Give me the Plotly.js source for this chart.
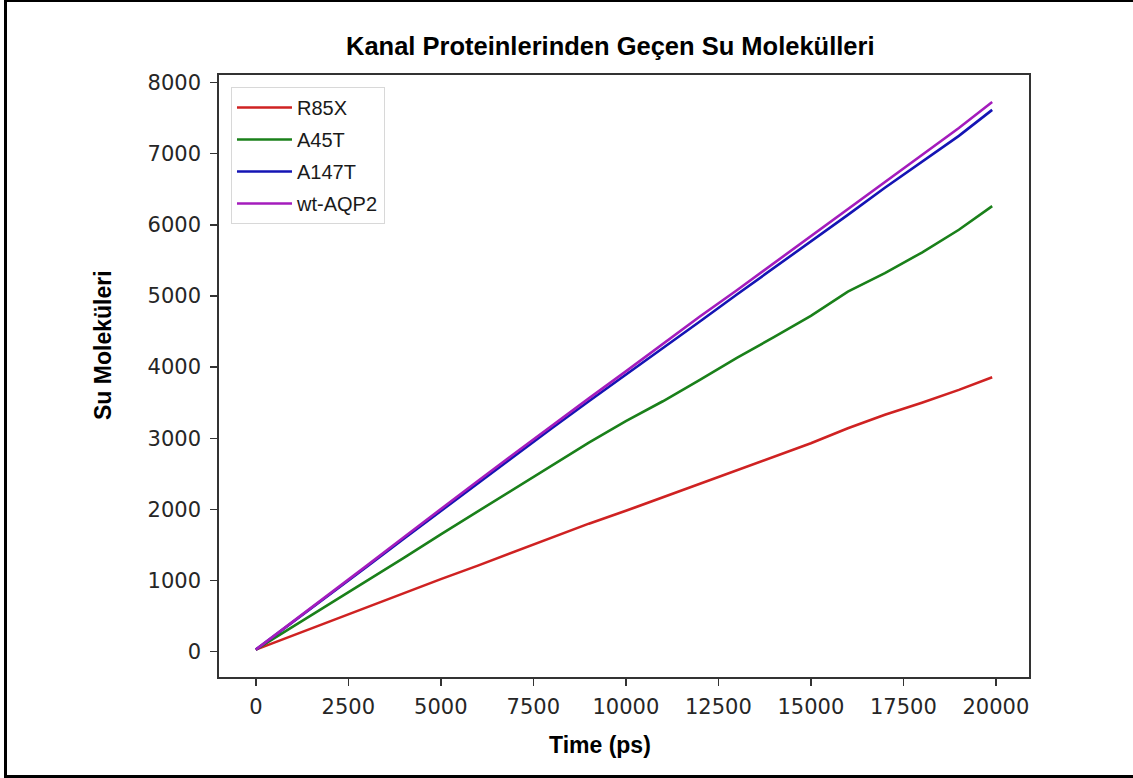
<!DOCTYPE html>
<html>
<head>
<meta charset="utf-8">
<script src="https://cdn.plot.ly/plotly-3.0.1.min.js"></script>
<style>
  html, body { margin: 0; padding: 0; background: #ffffff; }
  #wrap { position: relative; width: 1133px; height: 778px; overflow: hidden; }
  #chart { width: 1133px; height: 778px; }
  #frame { position: absolute; left: 4px; top: 0px; width: 1140px; height: 773px;
           border-left: 3px solid #000; border-top: 2px solid #000; border-bottom: 3px solid #000;
           pointer-events: none; box-sizing: content-box; }
</style>
</head>
<body>
<div id="wrap">
  <div id="chart"></div>
  <div id="frame"></div>
</div>
<script>
// Time points (ps)
const timePs = [0, 1000, 2000, 3000, 4000, 5000, 6000, 7000, 8000, 9000, 10000,
                11000, 12000, 13000, 14000, 15000, 16000, 17000, 18000, 19000, 19900];

// Water molecules passed
const r85x = [30, 230, 430, 630, 830, 1020, 1210, 1410, 1610, 1800, 1980,
              2170, 2360, 2540, 2740, 2930, 3140, 3330, 3500, 3680, 3858];
const a45t = [30, 350, 680, 1000, 1320, 1650, 1975, 2300, 2620, 2940, 3240,
              3520, 3820, 4130, 4420, 4720, 5060, 5320, 5610, 5930, 6263];
const a147t = [30, 415, 810, 1195, 1590, 1980, 2365, 2750, 3140, 3520, 3890,
               4270, 4640, 5020, 5390, 5770, 6140, 6520, 6890, 7250, 7615];
const wtAqp2 = [30, 420, 820, 1210, 1610, 2010, 2400, 2790, 3180, 3560, 3940,
                4330, 4710, 5080, 5460, 5840, 6210, 6600, 6980, 7360, 7725];

const seriesNames = ['R85X', 'A45T', 'A147T', 'wt-AQP2'];
const seriesValues = [r85x, a45t, a147t, wtAqp2];
const seriesColors = ['#cf2222', '#1a801a', '#1414b4', '#a41cbc'];

const xTicks = [0, 2500, 5000, 7500, 10000, 12500, 15000, 17500, 20000];
const yTicks = [0, 1000, 2000, 3000, 4000, 5000, 6000, 7000, 8000];

const traces = seriesNames.map((name, i) => ({
  x: timePs,
  y: seriesValues[i],
  type: 'scatter',
  mode: 'lines',
  name: name,
  legendgroup: 'g' + i,
  line: { color: seriesColors[i], width: 2.6 }
}));

const tickFont = { family: 'DejaVu Sans, sans-serif', size: 21, color: '#262626' };
const boldFont = { family: 'Liberation Sans, Arial, sans-serif', size: 23, color: '#000000' };

const layout = {
  width: 1133,
  height: 778,
  margin: { l: 219, r: 104, t: 75, b: 101, pad: 0 },
  paper_bgcolor: '#ffffff',
  plot_bgcolor: '#ffffff',
  showlegend: true,
  legend: {
    x: 0.0148, y: 0.98, xanchor: 'left', yanchor: 'top',
    bgcolor: '#ffffff', bordercolor: '#d8d8d8', borderwidth: 1,
    font: { family: 'Liberation Sans, Arial, sans-serif', size: 20, color: '#1a1a1a' },
    traceorder: 'grouped', tracegroupgap: 3, itemwidth: 55
  },
  xaxis: {
    range: [-995, 20895],
    tickvals: xTicks,
    ticktext: xTicks.map(String),
    ticks: 'outside', ticklen: 7, tickwidth: 1.5, tickcolor: '#333333',
    tickfont: tickFont,
    showgrid: false, zeroline: false,
    showline: true, linecolor: '#333333', linewidth: 1.8, mirror: true,
    ticklabelstandoff: 3
  },
  yaxis: {
    range: [-355, 8105],
    tickvals: yTicks,
    ticktext: yTicks.map(String),
    ticks: 'outside', ticklen: 7, tickwidth: 1.5, tickcolor: '#333333',
    tickfont: tickFont,
    showgrid: false, zeroline: false,
    showline: true, linecolor: '#333333', linewidth: 1.8, mirror: true,
    ticklabelstandoff: 5
  },
  annotations: [
    {
      text: '<b>Kanal Proteinlerinden Geçen Su Molekülleri</b>',
      xref: 'paper', yref: 'paper', x: (610 - 219) / 810, y: (677 - 46) / 602,
      xanchor: 'center', yanchor: 'middle', showarrow: false,
      font: { family: 'Liberation Sans, Arial, sans-serif', size: 25.5, color: '#000000' }
    },
    {
      text: '<b>Time (ps)</b>',
      xref: 'paper', yref: 'paper', x: (600 - 219) / 810, y: (677 - 745) / 602,
      xanchor: 'center', yanchor: 'middle', showarrow: false,
      font: boldFont
    },
    {
      text: '<b>Su Moleküleri</b>',
      xref: 'paper', yref: 'paper', x: (103 - 219) / 810, y: (677 - 345) / 602,
      xanchor: 'center', yanchor: 'middle', showarrow: false, textangle: -90,
      font: boldFont
    }
  ]
};

Plotly.newPlot('chart', traces, layout, { displayModeBar: false, staticPlot: true });
</script>
</body>
</html>
